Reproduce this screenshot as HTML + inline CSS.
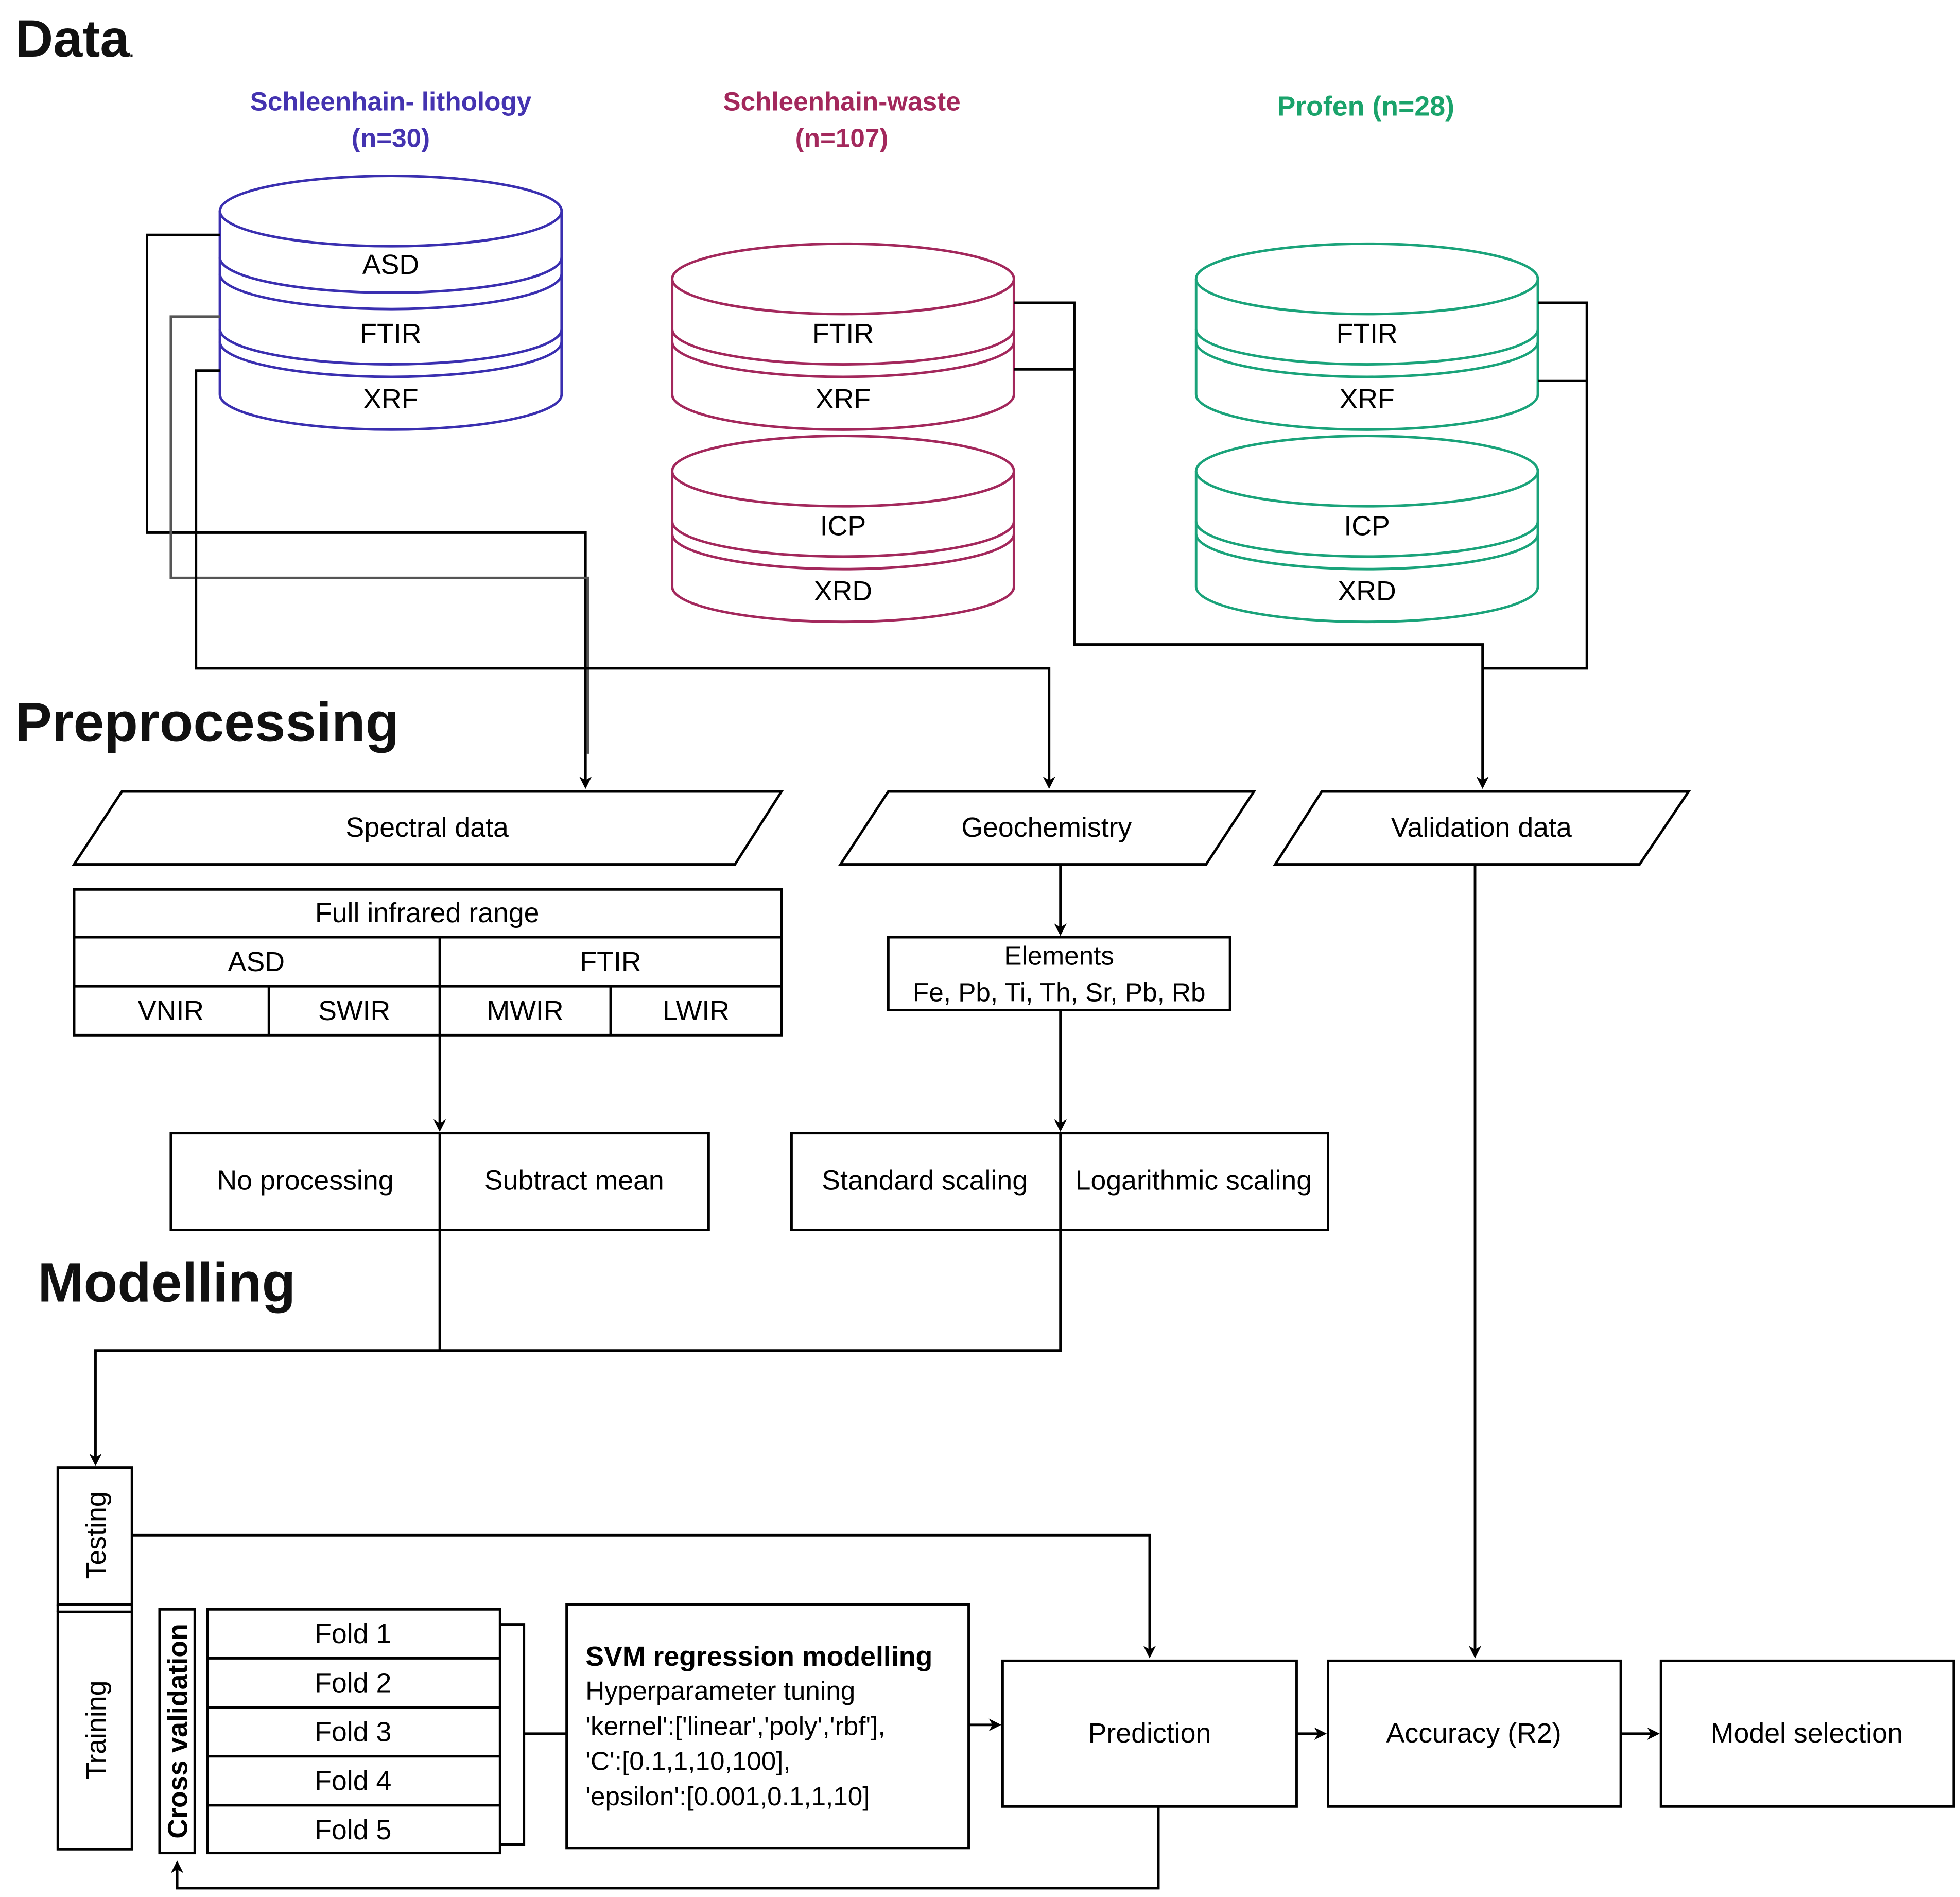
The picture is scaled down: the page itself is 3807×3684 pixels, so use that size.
<!DOCTYPE html>
<html><head><meta charset="utf-8">
<style>
html,body{margin:0;padding:0;background:#fff;}
svg{display:block;}
text{font-family:"Liberation Sans",sans-serif;}
</style></head>
<body>
<svg xmlns="http://www.w3.org/2000/svg" width="3807" height="3684" viewBox="0 0 1560 1510" preserveAspectRatio="none">
<defs>
<marker id="ar" markerWidth="10" markerHeight="10" refX="8" refY="5" orient="auto" markerUnits="userSpaceOnUse">
<path d="M0,0 L10,5 L0,10 L3,5 Z" fill="#000"/>
</marker>
</defs>
<rect width="1560" height="1510" fill="#fff"/>

<!-- Titles -->
<text x="12" y="45" font-size="42" font-weight="bold" fill="#111">Data<tspan font-size="12">.</tspan></text>
<text x="12" y="590" font-size="44" font-weight="bold" fill="#111">Preprocessing</text>
<text x="30" y="1036" font-size="44" font-weight="bold" fill="#111">Modelling</text>

<text x="311" y="88" font-size="21" font-weight="bold" fill="#4433b0" text-anchor="middle">Schleenhain- lithology</text>
<text x="311" y="117" font-size="21" font-weight="bold" fill="#4433b0" text-anchor="middle">(n=30)</text>
<text x="670" y="88" font-size="21" font-weight="bold" fill="#a3285c" text-anchor="middle">Schleenhain-waste</text>
<text x="670" y="117" font-size="21" font-weight="bold" fill="#a3285c" text-anchor="middle">(n=107)</text>
<text x="1087" y="92" font-size="22" font-weight="bold" fill="#1aa36b" text-anchor="middle">Profen (n=28)</text>

<!-- Purple cylinders -->
<g fill="#fff" stroke="#3a2fb0" stroke-width="2">
<path d="M175,168 V314 A136,28 0 0 0 447,314 V168"/>
<ellipse cx="311" cy="168" rx="136" ry="28"/>
<path d="M175,205 A136,28 0 0 0 447,205" fill="none"/>
<path d="M175,218 A136,28 0 0 0 447,218" fill="none"/>
<path d="M175,262 A136,28 0 0 0 447,262" fill="none"/>
<path d="M175,272 A136,28 0 0 0 447,272" fill="none"/>
</g>
<text x="311" y="218" font-size="22" text-anchor="middle">ASD</text>
<text x="311" y="273" font-size="22" text-anchor="middle">FTIR</text>
<text x="311" y="325" font-size="22" text-anchor="middle">XRF</text>

<!-- Crimson cylinders -->
<g fill="#fff" stroke="#a3285c" stroke-width="2">
<path d="M535,222 V314 A136,28 0 0 0 807,314 V222"/>
<ellipse cx="671" cy="222" rx="136" ry="28"/>
<path d="M535,262 A136,28 0 0 0 807,262" fill="none"/>
<path d="M535,272 A136,28 0 0 0 807,272" fill="none"/>
<path d="M535,375 V467 A136,28 0 0 0 807,467 V375"/>
<ellipse cx="671" cy="375" rx="136" ry="28"/>
<path d="M535,415 A136,28 0 0 0 807,415" fill="none"/>
<path d="M535,425 A136,28 0 0 0 807,425" fill="none"/>
</g>
<text x="671" y="273" font-size="22" text-anchor="middle">FTIR</text>
<text x="671" y="325" font-size="22" text-anchor="middle">XRF</text>
<text x="671" y="426" font-size="22" text-anchor="middle">ICP</text>
<text x="671" y="478" font-size="22" text-anchor="middle">XRD</text>

<!-- Green cylinders -->
<g fill="#fff" stroke="#1aa37a" stroke-width="2">
<path d="M952,222 V314 A136,28 0 0 0 1224,314 V222"/>
<ellipse cx="1088" cy="222" rx="136" ry="28"/>
<path d="M952,262 A136,28 0 0 0 1224,262" fill="none"/>
<path d="M952,272 A136,28 0 0 0 1224,272" fill="none"/>
<path d="M952,375 V467 A136,28 0 0 0 1224,467 V375"/>
<ellipse cx="1088" cy="375" rx="136" ry="28"/>
<path d="M952,415 A136,28 0 0 0 1224,415" fill="none"/>
<path d="M952,425 A136,28 0 0 0 1224,425" fill="none"/>
</g>
<text x="1088" y="273" font-size="22" text-anchor="middle">FTIR</text>
<text x="1088" y="325" font-size="22" text-anchor="middle">XRF</text>
<text x="1088" y="426" font-size="22" text-anchor="middle">ICP</text>
<text x="1088" y="478" font-size="22" text-anchor="middle">XRD</text>

<!-- Connectors -->
<g fill="none" stroke="#000" stroke-width="2">
<path d="M175,187 H117 V424 H466 V626" marker-end="url(#ar)"/>
<path d="M175,252 H136 V460 H468 V600" stroke="#555"/>
<path d="M175,295 H156 V532 H835 V626" marker-end="url(#ar)"/>
<path d="M807,241 H855 V513 H1180 V626" marker-end="url(#ar)"/>
<path d="M807,294 H855"/>
<path d="M1224,241 H1263 V532 H1180"/>
<path d="M1224,303 H1263"/>
</g>

<!-- Parallelograms -->
<g fill="#fff" stroke="#000" stroke-width="2">
<path d="M97,630 H622 L585,688 H59 Z"/>
<path d="M707,630 H998 L960,688 H669 Z"/>
<path d="M1052,630 H1344 L1305,688 H1015 Z"/>
</g>
<text x="340" y="666" font-size="22" text-anchor="middle">Spectral data</text>
<text x="833" y="666" font-size="22" text-anchor="middle">Geochemistry</text>
<text x="1179" y="666" font-size="22" text-anchor="middle">Validation data</text>

<!-- Table -->
<g fill="none" stroke="#000" stroke-width="2">
<rect x="59" y="708" width="563" height="116"/>
<path d="M59,746 H622 M59,785 H622 M350,746 V824 M214,785 V824 M486,785 V824"/>
</g>
<text x="340" y="734" font-size="22" text-anchor="middle">Full infrared range</text>
<text x="204" y="773" font-size="22" text-anchor="middle">ASD</text>
<text x="486" y="773" font-size="22" text-anchor="middle">FTIR</text>
<text x="136" y="812" font-size="22" text-anchor="middle">VNIR</text>
<text x="282" y="812" font-size="22" text-anchor="middle">SWIR</text>
<text x="418" y="812" font-size="22" text-anchor="middle">MWIR</text>
<text x="554" y="812" font-size="22" text-anchor="middle">LWIR</text>

<g fill="none" stroke="#000" stroke-width="2">
<path d="M350,824 V899" marker-end="url(#ar)"/>
<rect x="136" y="902" width="428" height="77"/>
<path d="M350,902 V979"/>
<path d="M844,688 V743" marker-end="url(#ar)"/>
<rect x="707" y="746" width="272" height="58"/>
<path d="M844,804 V899" marker-end="url(#ar)"/>
<rect x="630" y="902" width="427" height="77"/>
<path d="M844,902 V979"/>
<path d="M350,979 V1075 M844,979 V1075 H76 V1165" marker-end="url(#ar)"/>
</g>
<text x="243" y="947" font-size="22" text-anchor="middle">No processing</text>
<text x="457" y="947" font-size="22" text-anchor="middle">Subtract mean</text>
<text x="843" y="768" font-size="21" text-anchor="middle">Elements</text>
<text x="843" y="797" font-size="21" text-anchor="middle">Fe, Pb, Ti, Th, Sr, Pb, Rb</text>
<text x="736" y="947" font-size="22" text-anchor="middle">Standard scaling</text>
<text x="950" y="947" font-size="22" text-anchor="middle">Logarithmic scaling</text>

<!-- Modelling -->
<g fill="#fff" stroke="#000" stroke-width="2">
<rect x="46" y="1168" width="59" height="109"/>
<rect x="46" y="1283" width="59" height="189"/>
<path d="M46,1277 V1283 M105,1277 V1283" />
<rect x="127" y="1281" width="28" height="194"/>
<rect x="165" y="1281" width="233" height="194"/>
<path d="M165,1320 H398 M165,1359 H398 M165,1398 H398 M165,1437 H398" fill="none"/>
<path d="M398,1293 H417 V1468 H398 M417,1380 H451" fill="none"/>
<rect x="451" y="1277" width="320" height="194"/>
<rect x="798" y="1322" width="234" height="116"/>
<rect x="1057" y="1322" width="233" height="116"/>
<rect x="1322" y="1322" width="233" height="116"/>
</g>
<g fill="none" stroke="#000" stroke-width="2">
<path d="M105,1222 H915 V1318" marker-end="url(#ar)"/>
<path d="M771,1373 H795" marker-end="url(#ar)"/>
<path d="M1032,1380 H1054" marker-end="url(#ar)"/>
<path d="M1290,1380 H1319" marker-end="url(#ar)"/>
<path d="M1174,688 V1318" marker-end="url(#ar)"/>
<path d="M922,1438 V1503 H141 V1483" marker-end="url(#ar)"/>
</g>
<text transform="translate(84,1222) rotate(-90)" font-size="22" text-anchor="middle">Testing</text>
<text transform="translate(84,1377) rotate(-90)" font-size="22" text-anchor="middle">Training</text>
<text transform="translate(149,1378) rotate(-90)" font-size="22" font-weight="bold" text-anchor="middle">Cross validation</text>
<text x="281" y="1308" font-size="22" text-anchor="middle">Fold 1</text>
<text x="281" y="1347" font-size="22" text-anchor="middle">Fold 2</text>
<text x="281" y="1386" font-size="22" text-anchor="middle">Fold 3</text>
<text x="281" y="1425" font-size="22" text-anchor="middle">Fold 4</text>
<text x="281" y="1464" font-size="22" text-anchor="middle">Fold 5</text>
<text x="466" y="1326" font-size="22" font-weight="bold">SVM regression modelling</text>
<text x="466" y="1353" font-size="21">Hyperparameter tuning</text>
<text x="466" y="1381" font-size="21">'kernel':['linear','poly','rbf'],</text>
<text x="466" y="1409" font-size="21">'C':[0.1,1,10,100],</text>
<text x="466" y="1437" font-size="21">'epsilon':[0.001,0.1,1,10]</text>
<text x="915" y="1387" font-size="22" text-anchor="middle">Prediction</text>
<text x="1173" y="1387" font-size="22" text-anchor="middle">Accuracy (R2)</text>
<text x="1438" y="1387" font-size="22" text-anchor="middle">Model selection</text>
</svg>
</body></html>
